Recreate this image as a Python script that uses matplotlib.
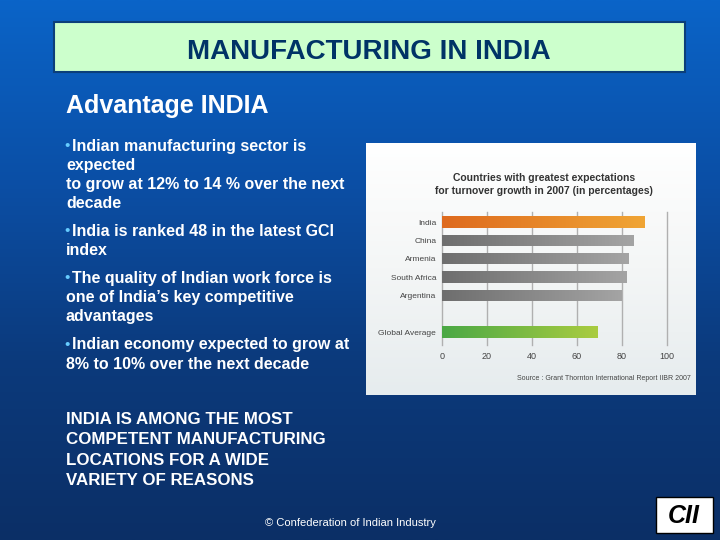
import numpy as np
import matplotlib.pyplot as plt
from matplotlib.colors import LinearSegmentedColormap
from matplotlib.patches import Rectangle

plt.rcParams['font.family'] = ['Liberation Sans', 'DejaVu Sans']

# data
countries = ['India', 'China', 'Armenia', 'South Africa', 'Argentina', 'Global Average']
growth = [90, 85, 83, 82, 80, 69]
xticks = [0, 20, 40, 60, 80, 100]

slide_title = 'MANUFACTURING IN INDIA'
heading = 'Advantage INDIA'
bullets = [
    ['Indian manufacturing sector is', 'expected', 'to grow at 12% to 14 % over the next', 'decade'],
    ['India is ranked 48 in the latest GCI', 'index'],
    ['The quality of Indian work force is', 'one of India\u2019s key competitive', 'advantages'],
    ['Indian economy expected to grow at', '8% to 10% over the next decade'],
]
closing = ['INDIA IS AMONG THE MOST', 'COMPETENT MANUFACTURING',
           'LOCATIONS FOR A WIDE', 'VARIETY OF REASONS']

W, H = 720, 540
fig = plt.figure(figsize=(7.2, 5.4), dpi=100)

def px(x, y):
    return x / W, 1 - y / H

# slide background
bg = fig.add_axes([0, 0, 1, 1])
bg_cmap = LinearSegmentedColormap.from_list('bg', ['#0a64c8', '#0b4fa6', '#0c3a7c', '#0b2f66'])
bg.imshow(np.linspace(0, 1, 256).reshape(-1, 1), cmap=bg_cmap, aspect='auto',
          extent=[0, 1, 0, 1], origin='upper')
bg.set_xlim(0, 1)
bg.set_ylim(0, 1)
bg.axis('off')

# title box
x0, y0 = px(54, 72)
bg.add_patch(Rectangle((x0, y0), (685 - 54) / W, 50 / H, facecolor='#ccffcc',
                       edgecolor='#0b3f7a', lw=1.5))
bg.text(*px(369, 52), slide_title, color='#003366', fontsize=20, fontweight='bold',
        ha='center', va='center')

bg.text(*px(66, 106), heading, color='white', fontsize=18, fontweight='bold',
        ha='left', va='center')

starts = [146, 231, 278, 345]
for lines, y in zip(bullets, starts):
    for i, line in enumerate(lines):
        if i == 0:
            bg.text(*px(64, y), '\u2022', color='#66ccff', fontsize=11, ha='left', va='center')
            bg.text(*px(72, y), line, color='white', fontsize=11.5, fontweight='bold',
                    ha='left', va='center')
        else:
            bg.text(*px(66, y), line, color='white', fontsize=11.5, fontweight='bold',
                    ha='left', va='center')
        y += 19.3

for i, line in enumerate(closing):
    bg.text(*px(66, 419 + i * 20.6), line, color='white', fontsize=12.2, fontweight='bold',
            ha='left', va='center')

bg.text(*px(350, 523), '\u00a9 Confederation of Indian Industry', color='white',
        fontsize=8, ha='center', va='center')

# CII logo
lx, ly = px(656, 533)
bg.add_patch(Rectangle((lx, ly), 57 / W, 36 / H, facecolor='white', edgecolor='black', lw=1))
bg.text(*px(684, 516), 'CII', color='black', fontsize=18, fontweight='heavy',
        fontstyle='italic', ha='center', va='center')

# chart panel
panel = fig.add_axes([366 / W, 1 - 395 / H, 330 / W, 252 / H])
panel_cmap = LinearSegmentedColormap.from_list('panel', ['#ffffff', '#f4f6f6', '#e6ecee'])
panel.imshow(np.linspace(0, 1, 256).reshape(-1, 1), cmap=panel_cmap, aspect='auto',
             extent=[0, 1, 0, 1], origin='upper')
panel.set_xlim(0, 1)
panel.set_ylim(0, 1)
panel.axis('off')
panel.text(0.54, 0.835, 'Countries with greatest expectations\nfor turnover growth in 2007 (in percentages)',
           color='#333333', fontsize=7.5, fontweight='bold', ha='center', va='center',
           linespacing=1.45)
panel.text(0.985, 0.065, 'Source : Grant Thornton International Report IIBR 2007',
           color='#444444', fontsize=5, ha='right', va='center')

ax = fig.add_axes([441.7 / W, 1 - 345 / H, 225 / W, 133 / H])
ax.patch.set_alpha(0)
ypos = [0, 1, 2, 3, 4, 6]
grads = [
    ['#de6a1e', '#f0a535'],
    ['#6e6e6e', '#a4a4a4'],
    ['#6e6e6e', '#a4a4a4'],
    ['#6e6e6e', '#a4a4a4'],
    ['#6e6e6e', '#a4a4a4'],
    ['#4aa845', '#aacc40'],
]
bars = ax.barh(ypos, growth, height=0.62, color='none', zorder=3)
for bar, cols in zip(bars, grads):
    cm = LinearSegmentedColormap.from_list('b', cols)
    bx, by, bw, bh = bar.get_x(), bar.get_y(), bar.get_width(), bar.get_height()
    im = ax.imshow(np.linspace(0, 1, 256).reshape(1, -1), cmap=cm, aspect='auto',
                   extent=[bx, bx + bw, by + bh, by], zorder=3)
    im.set_clip_path(bar)
ax.set_xlim(0, 100)
ax.set_ylim(6.7, -0.55)
ax.set_xticks(xticks)
ax.set_yticks(ypos)
ax.set_yticklabels(countries)
ax.grid(axis='x', color='#b0b0b0', lw=1, zorder=0)
for gl in ax.get_xgridlines():
    gl.set_clip_on(False)
ax.tick_params(length=0, labelsize=6, labelcolor='#444444')
ax.tick_params(axis='x', pad=5, labelsize=6.5)
ax.tick_params(axis='y', pad=4)
for s in ax.spines.values():
    s.set_visible(False)

fig.savefig('out.png', dpi=100)
